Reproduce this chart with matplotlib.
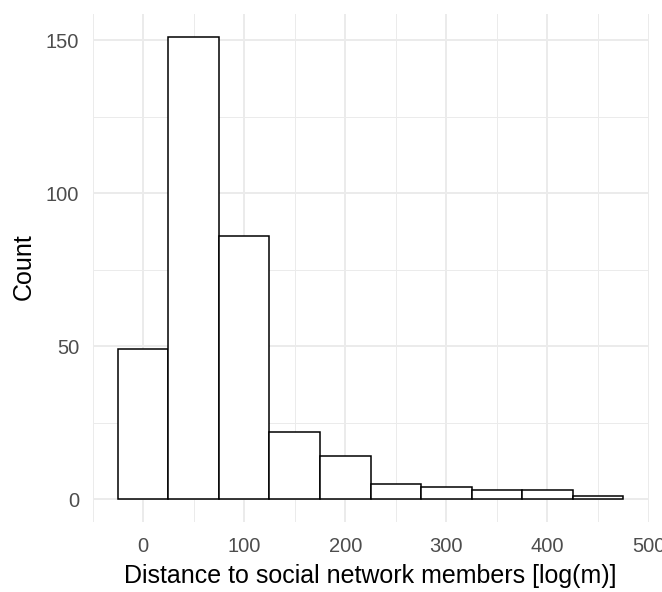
import matplotlib
matplotlib.use("Agg")
import matplotlib.pyplot as plt
from matplotlib.ticker import FixedLocator

# Data (histogram bins of width 50)
bin_centers = [0, 50, 100, 150, 200, 250, 300, 350, 400, 450]
counts = [49, 151, 86, 22, 14, 5, 4, 3, 3, 1]
bin_width = 50
x_ticks = [0, 100, 200, 300, 400, 500]
y_ticks = [0, 50, 100, 150]
x_label = "Distance to social network members [log(m)]"
y_label = "Count"

plt.rcParams['font.family'] = ['Liberation Sans', 'DejaVu Sans']

W, H = 662, 592
fig = plt.figure(figsize=(W / 100, H / 100), dpi=100)
left, right, top, bottom = 92.5, 648.5, 14.1, 522.4
ax = fig.add_axes([left / W, 1 - bottom / H, (right - left) / W, (bottom - top) / H])

ax.bar(bin_centers, counts, width=bin_width, color="white", edgecolor="black",
       linewidth=1.1, zorder=3)

ax.set_xlim(-50, 500)
ax.set_ylim(-7.55, 158.55)

ax.xaxis.set_major_locator(FixedLocator(x_ticks))
ax.xaxis.set_minor_locator(FixedLocator([-50, 50, 150, 250, 350, 450]))
ax.yaxis.set_major_locator(FixedLocator(y_ticks))
ax.yaxis.set_minor_locator(FixedLocator([25, 75, 125]))

ax.grid(which="major", color="#EBEBEB", linewidth=1.4, zorder=0)
ax.grid(which="minor", color="#EBEBEB", linewidth=0.7, zorder=0)
ax.set_axisbelow(True)

for s in ax.spines.values():
    s.set_visible(False)

ax.tick_params(which="both", length=0)
ax.tick_params(axis="y", pad=9.5, labelsize=14.5, labelcolor="#4D4D4D")
ax.tick_params(axis="x", pad=10.5, labelsize=14.5, labelcolor="#4D4D4D")

fig.text((left + right) / 2 / W, 1 - 583.5 / H, x_label, ha="center", va="baseline",
         fontsize=18, color="black")
fig.text(24 / W, 1 - 266.5 / H, y_label, ha="center", va="center",
         rotation=90, fontsize=18, color="black")

fig.savefig("out.png", dpi=100, facecolor="white")
